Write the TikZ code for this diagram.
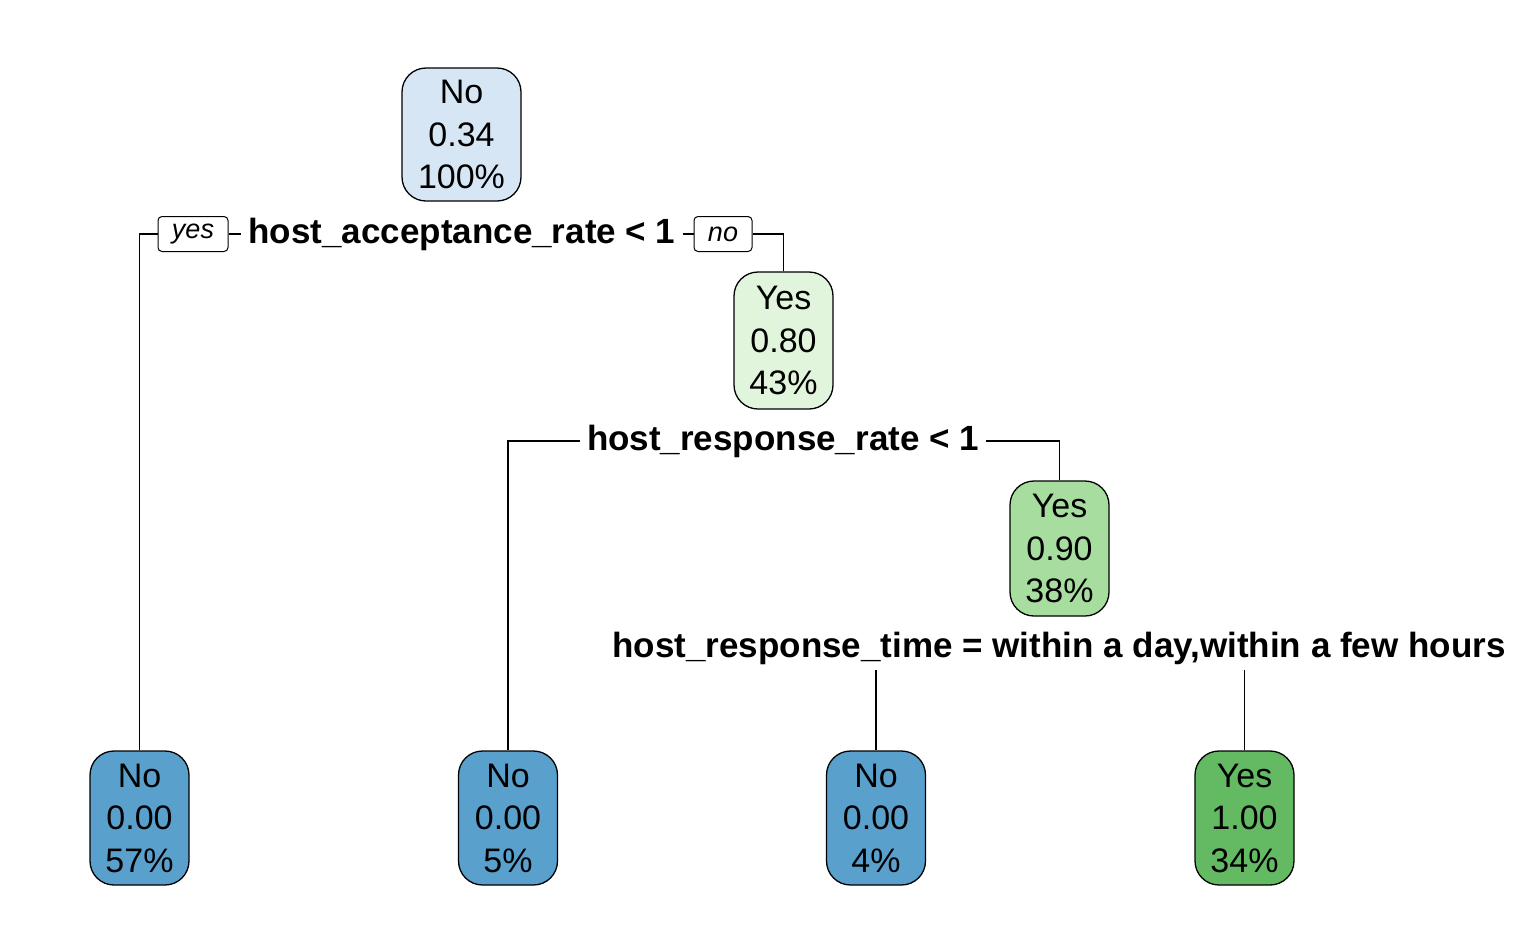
\documentclass[tikz,border=0pt]{standalone}
\usepackage{fontspec}
\setmainfont{Liberation Sans}
\definecolor{rootblue}{RGB}{214,230,245}
\definecolor{leafblue}{RGB}{90,160,205}
\definecolor{palegreen}{RGB}{225,244,220}
\definecolor{midgreen}{RGB}{168,221,160}
\definecolor{leafgreen}{RGB}{99,186,99}
\begin{document}
\begin{tikzpicture}[x=1pt,y=-1pt,
  treenode/.style={draw=black, line width=1.3pt, rounded corners=24pt, align=center,
    minimum width=99pt, minimum height=134pt, inner sep=0pt,
    font=\fontsize{34}{42.5}\selectfont},
  splitlabel/.style={font=\bfseries\fontsize{35}{40}\selectfont, inner sep=7pt},
  yesno/.style={draw=black, line width=1pt, rounded corners=4pt, inner sep=0pt,
    minimum height=35pt, font=\itshape\fontsize{27}{30}\selectfont},
  link/.style={line width=1.3pt}]
\useasboundingbox (0,0) rectangle (1540,951);
% nodes
\node[treenode, fill=rootblue, minimum width=119pt, minimum height=133pt] (root) at (461.5,134.5) {No\\0.34\\100\%};
\node[treenode, fill=palegreen, minimum height=137pt] (n2) at (783.5,340.5) {Yes\\0.80\\43\%};
\node[treenode, fill=midgreen, minimum height=135pt] (n3) at (1059.5,548.5) {Yes\\0.90\\38\%};
\node[treenode, fill=leafblue] (l1) at (139.5,818) {No\\0.00\\57\%};
\node[treenode, fill=leafblue] (l2) at (508,818) {No\\0.00\\5\%};
\node[treenode, fill=leafblue] (l3) at (876,818) {No\\0.00\\4\%};
\node[treenode, fill=leafgreen] (l4) at (1244.5,818) {Yes\\1.00\\34\%};
% split labels
\node[splitlabel] (s1) at (462,234) {host\_acceptance\_rate < 1};
\node[splitlabel] (s2) at (783,441) {host\_response\_rate < 1};
\node[splitlabel] (s3) at (1059,648) {host\_response\_time = within a day,within a few hours};
\node[yesno, minimum width=70pt] (yes) at (193,234) {yes};
\node[yesno, minimum width=58pt] (no) at (723,234) {no};
\coordinate (c3l) at (876,670);
\coordinate (c3r) at (1244.5,670);
% connectors
\draw[link] (yes.west) -| (l1.north);
\draw[link] (yes.east) -- (s1.west);
\draw[link] (s1.east) -- (no.west);
\draw[link] (no.east) -| (n2.north);
\draw[link] (s2.west) -| (l2.north);
\draw[link] (s2.east) -| (n3.north);
\draw[link] (c3l) -- (l3.north);
\draw[link] (c3r) -- (l4.north);
\end{tikzpicture}
\end{document}
